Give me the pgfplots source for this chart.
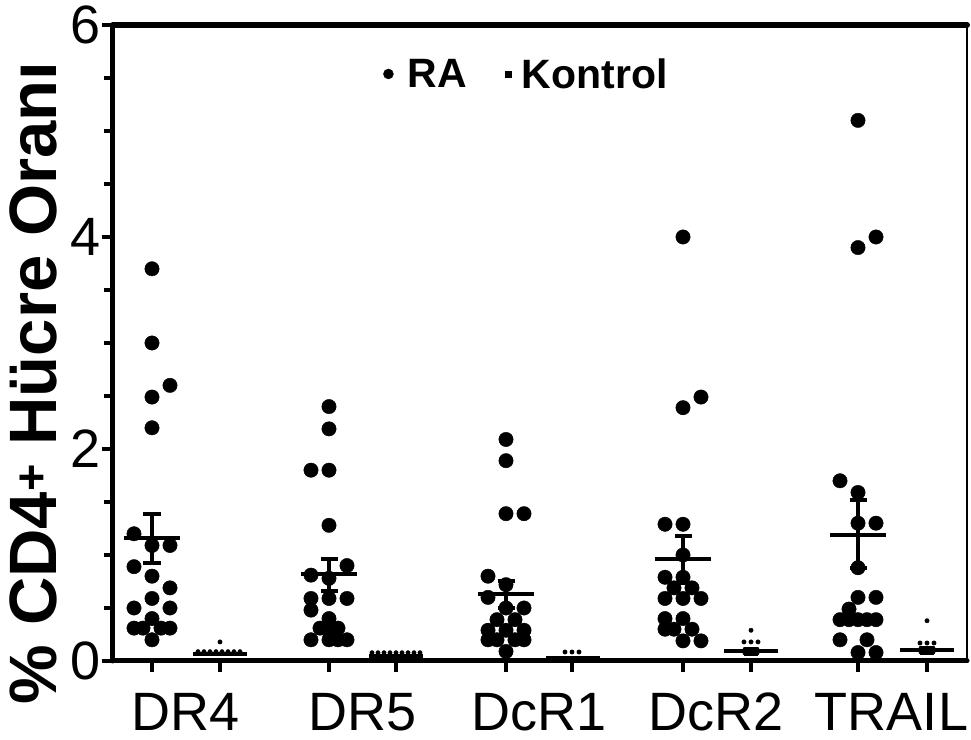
\documentclass[border=0pt]{standalone}
\usepackage{pgfplots}
\pgfplotsset{compat=1.18}
\usepackage{fontspec}
\setmainfont{Liberation Sans}
\begin{document}
\begin{tikzpicture}
\begin{axis}[
 name=ax,
 scale only axis, width=854pt, height=636pt,
 xmin=113, xmax=967, ymin=0, ymax=6,
 clip=false,
 axis x line*=bottom, axis y line*=left,
 axis line style={line width=5pt, line cap=round, -},
 xtick={152,220,329,396,506,572,683,751,858,927},
 xticklabels={DR4,,DR5,,DcR1,,DcR2,,TRAIL,},
 xticklabel style={anchor=base, xshift=33.5pt, yshift=-58pt},
 ytick={0,2,4,6}, minor ytick={0.5,1,1.5,2.5,3,3.5,4.5,5,5.5},
 tick align=outside,
 major tick length=11pt, minor tick length=9pt,
 tick style={line width=4pt, black},
 /pgf/number format/assume math mode=true,
 tick label style={font=\fontsize{54}{60}\selectfont, inner sep=0pt},
 yticklabel style={anchor=east, xshift=-1pt},
 legend style={at={(0.3162,0.923)}, anchor=west, draw=none, fill=none,
   inner sep=0pt, legend columns=2, font=\bfseries\fontsize{41}{46}\selectfont,
   nodes={inner sep=0pt},
   /tikz/every odd column/.append style={column sep=0pt},
   /tikz/every even column/.append style={column sep=38pt}},
 legend cell align=left,
]
\addlegendimage{legend image code/.code={\path[draw=none,fill=none] (0pt,-5pt) rectangle (24pt,5pt); \fill[black] (5pt,0pt) circle (5pt);}}
\addlegendentry{RA}
\addlegendimage{legend image code/.code={\path[draw=none,fill=none] (0pt,-5pt) rectangle (17pt,5pt); \fill[black] (0pt,-3pt) rectangle (6pt,3pt);}}
\addlegendentry{Kontrol}

% RA points
\addplot[only marks, mark=*, mark size=7.2pt, mark options={fill=black, draw=none}, forget plot] coordinates {
% DR4
(152,3.70) (152,3.00) (170,2.60) (152,2.49) (152,2.20) (134,1.20) (152,1.09) (170,1.09)
(134,0.89) (152,0.80) (170,0.69) (152,0.59) (134,0.50) (170,0.50) (152,0.40)
(134,0.31) (143,0.31) (161,0.31) (170,0.31) (152,0.20)
% DR5
(329,2.40) (329,2.19) (311,1.80) (329,1.80) (329,1.28) (347,0.90) (311,0.81) (329,0.78)
(311,0.59) (329,0.59) (347,0.59) (311,0.48) (329,0.40) (320,0.31) (338,0.31) (329,0.28)
(311,0.20) (329,0.20) (338,0.20) (347,0.20)
% DcR1
(506,2.09) (506,1.89) (506,1.39) (524,1.39) (488,0.80) (506,0.72) (488,0.60) (506,0.50)
(524,0.50) (497,0.39) (515,0.39) (488,0.29) (506,0.29) (524,0.29) (488,0.20) (497,0.20)
(515,0.20) (524,0.20) (506,0.09)
% DcR2
(683,4.00) (701,2.49) (683,2.39) (665,1.29) (683,1.29) (683,1.00) (665,0.79) (683,0.79)
(674,0.69) (692,0.69) (665,0.59) (683,0.59) (701,0.59) (665,0.40) (683,0.40) (665,0.30)
(674,0.30) (692,0.30) (683,0.19) (701,0.19)
% TRAIL
(858,5.10) (876,4.00) (858,3.90) (840,1.70) (858,1.59) (858,1.30) (876,1.30) (858,0.88)
(858,0.60) (876,0.60) (849,0.49) (840,0.39) (849,0.39) (858,0.39) (867,0.39) (876,0.39)
(840,0.20) (867,0.20) (858,0.08) (876,0.08)
};

% Kontrol points
\addplot[only marks, mark=*, mark size=2.2pt, mark options={fill=black, draw=none}, forget plot] coordinates {
(220,0.18) (198,0.088) (204,0.088) (210,0.088) (216,0.088) (222,0.088) (228,0.088) (234,0.088) (240,0.088)
(372,0.078) (378,0.078) (384,0.078) (390,0.078) (396,0.078) (402,0.078) (408,0.078) (414,0.078) (420,0.078)
(565,0.085) (572,0.085) (579,0.085)
(751,0.29) (744,0.18) (751,0.18) (758,0.18) (745,0.11) (751,0.11) (757,0.11) (745,0.075) (751,0.075) (757,0.075)
(927,0.38) (920,0.17) (927,0.17) (934,0.17) (921,0.12) (927,0.12) (933,0.12) (921,0.085) (927,0.085) (933,0.085)
};

% Means and SEM, RA
\pgfplotsset{msty/.style={black, line width=4pt, forget plot}}
\addplot[msty] coordinates {(124,1.16) (180,1.16)};
\addplot[msty] coordinates {(152,0.92) (152,1.39)};
\addplot[msty] coordinates {(143.5,1.39) (160.5,1.39)};
\addplot[msty] coordinates {(143.5,0.92) (160.5,0.92)};

\addplot[msty] coordinates {(301,0.82) (357,0.82)};
\addplot[msty] coordinates {(329,0.66) (329,0.96)};
\addplot[msty] coordinates {(320.5,0.96) (337.5,0.96)};
\addplot[msty] coordinates {(320.5,0.66) (337.5,0.66)};

\addplot[msty] coordinates {(478,0.63) (534,0.63)};
\addplot[msty] coordinates {(506,0.50) (506,0.75)};
\addplot[msty] coordinates {(497.5,0.75) (514.5,0.75)};
\addplot[msty] coordinates {(497.5,0.50) (514.5,0.50)};

\addplot[msty] coordinates {(655,0.96) (711,0.96)};
\addplot[msty] coordinates {(683,0.74) (683,1.18)};
\addplot[msty] coordinates {(674.5,1.18) (691.5,1.18)};
\addplot[msty] coordinates {(674.5,0.74) (691.5,0.74)};

\addplot[msty] coordinates {(830,1.19) (886,1.19)};
\addplot[msty] coordinates {(858,0.88) (858,1.52)};
\addplot[msty] coordinates {(849.5,1.52) (866.5,1.52)};
\addplot[msty] coordinates {(849.5,0.88) (866.5,0.88)};

% Means and SEM, Kontrol
\addplot[msty] coordinates {(193,0.063) (247,0.063)};
\addplot[msty] coordinates {(369,0.047) (423,0.047)};
\addplot[msty] coordinates {(546,0.03) (600,0.03)};
\addplot[msty] coordinates {(724,0.09) (778,0.09)};
\addplot[msty] coordinates {(744,0.07) (758,0.07)};
\addplot[msty] coordinates {(744,0.11) (758,0.11)};
\addplot[msty] coordinates {(900,0.10) (954,0.10)};
\addplot[msty] coordinates {(920,0.08) (934,0.08)};
\addplot[msty] coordinates {(920,0.12) (934,0.12)};
\end{axis}
% frame top and right
\draw[line width=6pt, line cap=round] (ax.north west) -- (ax.north east);
\draw[line width=2pt] (ax.north east) -- (ax.south east);
% y label
\node[rotate=90, anchor=base, inner sep=0pt, font=\bfseries\fontsize{67}{75}\selectfont]
  at ([xshift=-56pt,yshift=278pt]ax.south west) {\% CD4\textsuperscript{+} Hücre Oranı};
\pgfresetboundingbox
\path ([xshift=-113pt,yshift=-79pt]ax.south west) rectangle ([xshift=4pt,yshift=25pt]ax.north east);
\end{tikzpicture}
\end{document}
